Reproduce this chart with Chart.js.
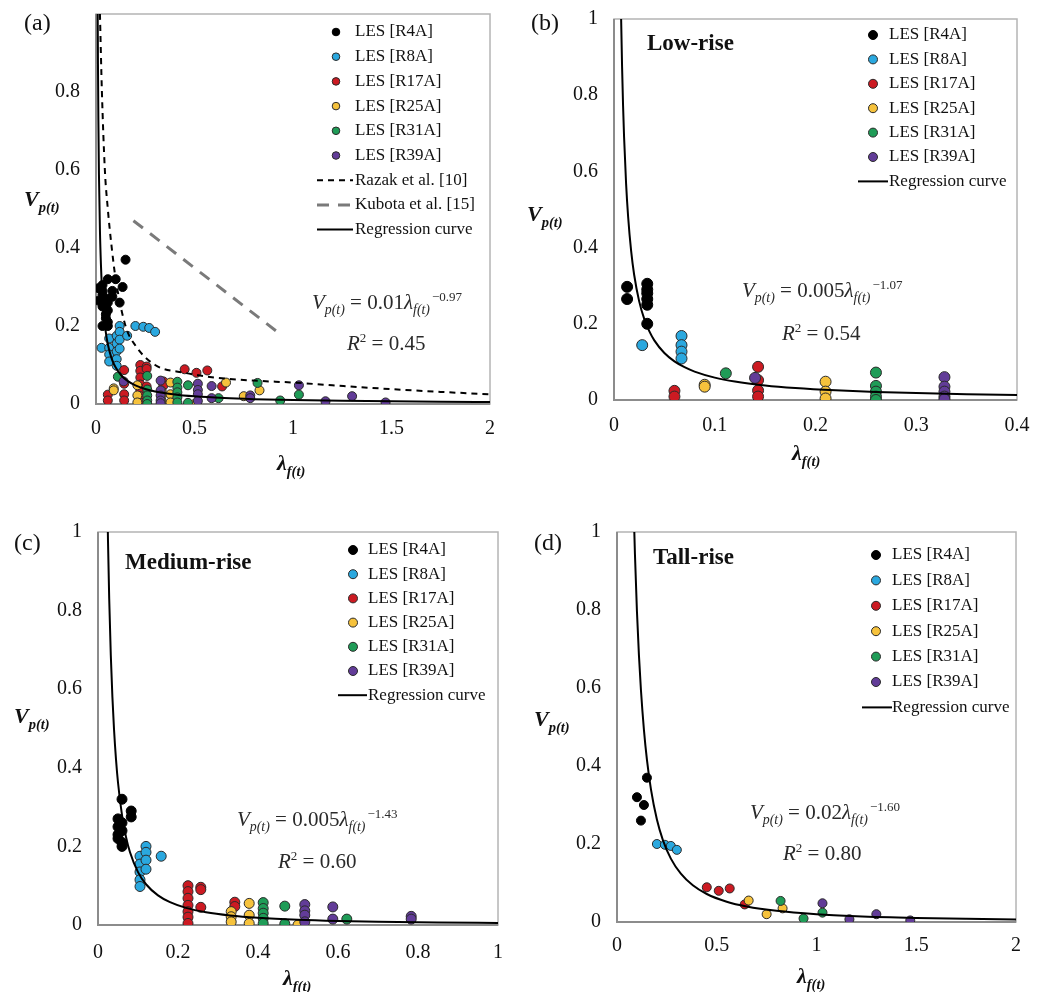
<!DOCTYPE html>
<html><head><meta charset="utf-8">
<script src="https://cdn.jsdelivr.net/npm/chart.js@4.4.0/dist/chart.umd.min.js"></script>
<style>
body{margin:0;background:#fff;width:1054px;height:992px;position:relative;overflow:hidden;font-family:'Liberation Serif','Times New Roman',serif;color:#111}
canvas{position:absolute}
.t{position:absolute;white-space:nowrap;line-height:1;z-index:5}
.sb{font-size:0.66em;position:relative;top:0.38em}
.sp{font-size:0.62em;position:relative;top:-0.62em;margin-left:2px}
.let{font-size:24px}
.sub{font-size:23px;font-weight:bold}
.eq{font-size:21px;color:#2a2a2a}
.ax{font-size:22px;font-weight:bold;font-style:italic}
</style></head><body>
<canvas id="ca" style="left:0;top:0;width:520px;height:490px" width="520" height="490"></canvas>
<canvas id="cb" style="left:520px;top:0;width:534px;height:490px" width="534" height="490"></canvas>
<canvas id="cc" style="left:0;top:496px;width:520px;height:496px" width="520" height="496"></canvas>
<canvas id="cd" style="left:520px;top:496px;width:534px;height:496px" width="534" height="496"></canvas>

<div class="t let" style="left:24px;top:10px">(a)</div>
<div class="t let" style="left:531px;top:10px">(b)</div>
<div class="t let" style="left:14px;top:530px">(c)</div>
<div class="t let" style="left:534px;top:530px">(d)</div>

<div class="t sub" style="left:647px;top:31px">Low-rise</div>
<div class="t sub" style="left:125px;top:550px">Medium-rise</div>
<div class="t sub" style="left:653px;top:545px">Tall-rise</div>

<div class="t eq" style="left:312px;top:292px"><i>V</i><span class="sb"><i>p(t)</i></span> = 0.01<i>λ</i><span class="sb"><i>f(t)</i></span><span class="sp">−0.97</span></div>
<div class="t eq" style="left:347px;top:333px"><i>R</i><span class="sp" style="margin-left:0">2</span> = 0.45</div>
<div class="t eq" style="left:742px;top:280px"><i>V</i><span class="sb"><i>p(t)</i></span> = 0.005<i>λ</i><span class="sb"><i>f(t)</i></span><span class="sp">−1.07</span></div>
<div class="t eq" style="left:782px;top:323px"><i>R</i><span class="sp" style="margin-left:0">2</span> = 0.54</div>
<div class="t eq" style="left:237px;top:809px"><i>V</i><span class="sb"><i>p(t)</i></span> = 0.005<i>λ</i><span class="sb"><i>f(t)</i></span><span class="sp">−1.43</span></div>
<div class="t eq" style="left:278px;top:851px"><i>R</i><span class="sp" style="margin-left:0">2</span> = 0.60</div>
<div class="t eq" style="left:750px;top:802px"><i>V</i><span class="sb"><i>p(t)</i></span> = 0.02<i>λ</i><span class="sb"><i>f(t)</i></span><span class="sp">−1.60</span></div>
<div class="t eq" style="left:783px;top:843px"><i>R</i><span class="sp" style="margin-left:0">2</span> = 0.80</div>

<div class="t ax" style="left:24px;top:188px">V<span class="sb">p(t)</span></div>
<div class="t ax" style="left:527px;top:203px">V<span class="sb">p(t)</span></div>
<div class="t ax" style="left:14px;top:705px">V<span class="sb">p(t)</span></div>
<div class="t ax" style="left:534px;top:708px">V<span class="sb">p(t)</span></div>
<div class="t ax" style="left:277px;top:452px">λ<span class="sb">f(t)</span></div>
<div class="t ax" style="left:792px;top:442px">λ<span class="sb">f(t)</span></div>
<div class="t ax" style="left:283px;top:967px">λ<span class="sb">f(t)</span></div>
<div class="t ax" style="left:797px;top:965px">λ<span class="sb">f(t)</span></div>

<script>
// ---------- series names & colours ----------
const seriesNames = ['LES [R4A]','LES [R8A]','LES [R17A]','LES [R25A]','LES [R31A]','LES [R39A]'];
const seriesColors = ['#000000','#2aa8df','#cc1a22','#f6c23c','#1f9c57','#623c98'];

// ---------- (b) Low-rise : [lambda_f(t), V_p(t)] ----------
const lowR4A  = [[0.013,0.297],[0.013,0.265],[0.033,0.305],[0.033,0.29],[0.033,0.28],[0.033,0.265],[0.033,0.25],[0.033,0.20]];
const lowR8A  = [[0.028,0.144],[0.067,0.168],[0.067,0.144],[0.067,0.127],[0.067,0.109]];
const lowR17A = [[0.06,0.024],[0.06,0.009],[0.143,0.087],[0.143,0.052],[0.143,0.025],[0.143,0.009]];
const lowR25A = [[0.09,0.04],[0.09,0.035],[0.21,0.048],[0.21,0.022],[0.21,0.004]];
const lowR31A = [[0.111,0.07],[0.26,0.072],[0.26,0.037],[0.26,0.022],[0.26,0.009],[0.26,0.0]];
const lowR39A = [[0.14,0.058],[0.328,0.06],[0.328,0.035],[0.328,0.022],[0.328,0.009],[0.328,0.002]];

// ---------- (c) Medium-rise ----------
const medR4A  = [[0.05,0.27],[0.05,0.25],[0.05,0.23],[0.05,0.22],[0.06,0.32],[0.06,0.26],[0.06,0.24],[0.06,0.21],[0.06,0.20],[0.083,0.29],[0.083,0.275]];
const medR8A  = [[0.105,0.175],[0.105,0.155],[0.105,0.135],[0.105,0.115],[0.105,0.098],[0.12,0.2],[0.12,0.185],[0.12,0.165],[0.12,0.142],[0.158,0.175]];
const medR17A = [[0.225,0.1],[0.225,0.085],[0.225,0.068],[0.225,0.05],[0.225,0.034],[0.225,0.02],[0.225,0.004],[0.257,0.096],[0.257,0.09],[0.257,0.045],[0.342,0.058],[0.342,0.047]];
const medR25A = [[0.333,0.034],[0.333,0.021],[0.333,0.008],[0.378,0.055],[0.378,0.025],[0.378,0.004],[0.50,0.0]];
const medR31A = [[0.413,0.057],[0.413,0.042],[0.413,0.03],[0.413,0.017],[0.413,0.004],[0.467,0.048],[0.467,0.003],[0.622,0.015]];
const medR39A = [[0.517,0.052],[0.517,0.036],[0.517,0.025],[0.517,0.008],[0.587,0.046],[0.587,0.015],[0.783,0.022],[0.783,0.015]];

// ---------- (d) Tall-rise ----------
const tallR4A  = [[0.10,0.32],[0.12,0.26],[0.135,0.30],[0.15,0.37]];
const tallR8A  = [[0.20,0.20],[0.24,0.198],[0.27,0.195],[0.30,0.185]];
const tallR17A = [[0.45,0.089],[0.51,0.08],[0.565,0.086],[0.64,0.045]];
const tallR25A = [[0.66,0.055],[0.75,0.02],[0.83,0.035]];
const tallR31A = [[0.82,0.054],[0.935,0.009],[1.03,0.024]];
const tallR39A = [[1.03,0.048],[1.165,0.007],[1.30,0.02],[1.47,0.004]];

// ---------- reference curves in (a) ----------
const razakX = [0.02,0.03,0.045,0.06,0.08,0.1,0.15,0.2,0.3,0.45,0.6,0.8,1.0,1.2,1.5,1.75,2.0];
const razakY = [1.0,0.8,0.6,0.5,0.4,0.32,0.2,0.15,0.1,0.08,0.068,0.06,0.055,0.048,0.038,0.031,0.025];
const kubotaX = [0.19,0.92];
const kubotaY = [0.47,0.185];

// ---------- regression coefficients V = a * lambda^b (as printed) ----------
const regCoefA = [0.01, 0.005, 0.005, 0.02];
const regCoefB = [-0.97, -1.07, -1.43, -1.60];
const regXa = [0.008,0.009,0.01,0.012,0.015,0.02,0.025,0.03,0.04,0.05,0.06,0.08,0.1,0.13,0.16,0.2,0.25,0.3,0.4,0.5,0.65,0.8,1,1.25,1.5,1.75,2];
const regXb = [0.0065,0.007,0.008,0.009,0.01,0.012,0.014,0.017,0.02,0.025,0.03,0.035,0.04,0.05,0.06,0.07,0.08,0.1,0.12,0.15,0.18,0.22,0.26,0.3,0.35,0.4];
const regXc = [0.023,0.025,0.028,0.032,0.036,0.04,0.045,0.05,0.06,0.07,0.08,0.1,0.12,0.15,0.18,0.22,0.27,0.33,0.4,0.5,0.6,0.7,0.85,1];
const regXd = [0.08,0.085,0.09,0.1,0.11,0.12,0.135,0.15,0.17,0.2,0.23,0.27,0.32,0.38,0.45,0.55,0.65,0.8,1,1.2,1.5,1.75,2];

// ---------- axes / tick labels ----------
const xMaxes = [2, 0.4, 1, 2];
const xSteps = [0.5, 0.1, 0.2, 0.5];
const yMax = 1, yStep = 0.2;

const FONT = "'Liberation Serif','Times New Roman',serif";

function toPts(arr){ return arr.map(p => ({x:p[0], y:p[1]})); }
function scatterSets(groups, r){
  return groups.map((g,i) => ({
    label: seriesNames[i], data: toPts(g), showLine:false,
    backgroundColor: seriesColors[i], borderColor: i===0 ? '#000' : '#2a2a2a',
    borderWidth: 1, pointRadius: r, pointHoverRadius: r, order: 6 - i
  }));
}
function regSet(xs, k){
  return { label:'Regression curve', data: xs.map(x => ({x, y: regCoefA[k]*Math.pow(x, regCoefB[k])})),
    showLine:true, pointRadius:0, borderColor:'#000', borderWidth:2, cubicInterpolationMode:'monotone', order:0, fill:false };
}

const framePlugin = {
  id:'frame',
  beforeDatasetsDraw(chart){
    const {ctx, chartArea:a} = chart;
    ctx.save();
    ctx.strokeStyle = '#b4b4b4'; ctx.lineWidth = 1.5;
    ctx.strokeRect(a.left, a.top, a.right-a.left, a.bottom-a.top);
    ctx.strokeStyle = '#8c8c8c'; ctx.lineWidth = 2;
    ctx.beginPath(); ctx.moveTo(a.left, a.top); ctx.lineTo(a.left, a.bottom); ctx.lineTo(a.right, a.bottom); ctx.stroke();
    ctx.restore();
  },
  afterDraw(chart, args, o){
    const ctx = chart.ctx;
    ctx.save();
    ctx.font = '17px ' + FONT; ctx.textBaseline = 'middle'; ctx.fillStyle = '#111';
    chart.data.datasets.forEach((ds, i) => {
      const y = o.y0 + i*o.dy;
      if (ds.showLine) {
        ctx.strokeStyle = ds.borderColor; ctx.lineWidth = ds.borderWidth;
        ctx.setLineDash(ds.borderDash || []);
        ctx.beginPath(); ctx.moveTo(o.l0, y); ctx.lineTo(o.l1, y); ctx.stroke();
        ctx.setLineDash([]);
      } else {
        ctx.beginPath(); ctx.arc(o.mx, y, o.mr, 0, Math.PI*2);
        ctx.fillStyle = ds.backgroundColor; ctx.fill();
        ctx.strokeStyle = ds.borderColor; ctx.lineWidth = 1; ctx.stroke();
        ctx.fillStyle = '#111';
      }
      ctx.fillText(ds.label, o.tx, y);
    });
    ctx.restore();
  }
};

function makeChart(id, datasets, k, cfg){
  const fmtX = v => String(+Number(v).toFixed(2));
  const fmtY = v => (cfg.hideTop && v >= 0.999) ? '' : String(+Number(v).toFixed(2));
  return new Chart(document.getElementById(id), {
    type:'scatter',
    data:{datasets},
    plugins:[framePlugin],
    options:{
      responsive:false, animation:false, events:[],
      layout:{padding:{left:0, top:cfg.pt, right:cfg.pr, bottom:0}},
      plugins:{legend:{display:false}, tooltip:{enabled:false}, frame:cfg.leg},
      scales:{
        x:{type:'linear', min:0, max:xMaxes[k], grid:{display:false, drawTicks:false}, border:{display:false},
           ticks:{stepSize:xSteps[k], padding:cfg.xp, color:'#111', font:{family:FONT, size:20}, callback:fmtX, maxRotation:0, autoSkip:false},
           afterFit:s => { s.height = cfg.xh; s.paddingLeft = 0; s.paddingRight = 0; }},
        y:{type:'linear', min:0, max:yMax, grid:{display:false, drawTicks:false}, border:{display:false},
           ticks:{stepSize:yStep, padding:16, color:'#111', font:{family:FONT, size:20}, callback:fmtY, autoSkip:false},
           afterFit:s => { s.width = cfg.yw; s.paddingTop = 0; s.paddingBottom = 0; }}
      }
    }
  });
}

// (a) all data combined
const allGroups = [
  lowR4A.concat(medR4A, tallR4A), lowR8A.concat(medR8A, tallR8A), lowR17A.concat(medR17A, tallR17A),
  lowR25A.concat(medR25A, tallR25A), lowR31A.concat(medR31A, tallR31A), lowR39A.concat(medR39A, tallR39A)
];
const setsA = scatterSets(allGroups, 4.5).concat([
  {label:'Razak et al. [10]', data: razakX.map((x,i)=>({x, y:razakY[i]})), showLine:true, pointRadius:0,
   borderColor:'#000', borderWidth:2, borderDash:[6,5], cubicInterpolationMode:'monotone', order:0},
  {label:'Kubota et al. [15]', data: kubotaX.map((x,i)=>({x, y:kubotaY[i]})), showLine:true, pointRadius:0,
   borderColor:'#7a7a7a', borderWidth:3, borderDash:[12,9], order:0},
  regSet(regXa, 0)
]);
makeChart('ca', setsA, 0, {pt:14, pr:30, xh:86, yw:96, xp:13, hideTop:true,
  leg:{mx:336, mr:3.8, tx:355, l0:317, l1:353, y0:32, dy:24.7}});

makeChart('cb', scatterSets([lowR4A,lowR8A,lowR17A,lowR25A,lowR31A,lowR39A], 5.5).concat([regSet(regXb,1)]), 1,
  {pt:19, pr:37, xh:90, yw:94, xp:14, leg:{mx:353, mr:4.5, tx:369, l0:338, l1:368, y0:35, dy:24.4}});

makeChart('cc', scatterSets([medR4A,medR8A,medR17A,medR25A,medR31A,medR39A], 5).concat([regSet(regXc,2)]), 2,
  {pt:36, pr:22, xh:67, yw:98, xp:16, leg:{mx:353, mr:4.5, tx:368, l0:338, l1:367, y0:54, dy:24.2}});

makeChart('cd', scatterSets([tallR4A,tallR8A,tallR17A,tallR25A,tallR31A,tallR39A], 4.5).concat([regSet(regXd,3)]), 3,
  {pt:36, pr:38, xh:70, yw:97, xp:12, leg:{mx:356, mr:4.5, tx:372, l0:342, l1:372, y0:59, dy:25.4}});
</script>
</body></html>
